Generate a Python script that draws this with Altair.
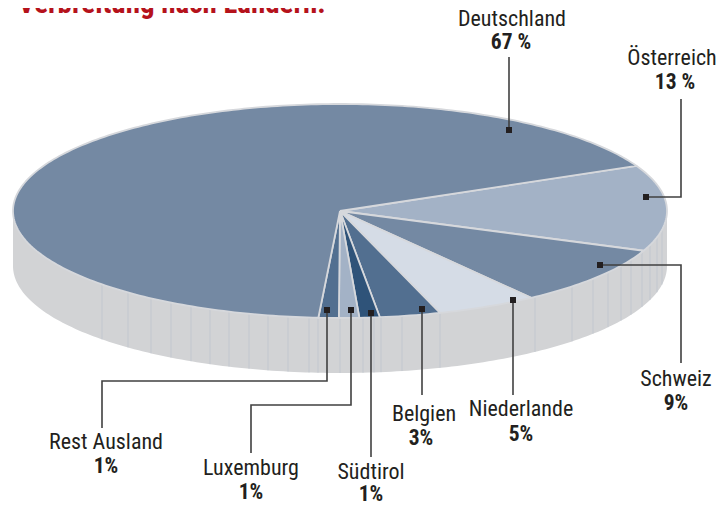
import math
import altair as alt
import pandas as pd

# --- data ---
countries = ["Österreich", "Schweiz", "Niederlande", "Belgien", "Südtirol", "Luxemburg", "Rest Ausland", "Deutschland"]
shares = [13, 9, 5, 3, 1, 1, 1, 67]
fills = ["#a3b2c6", "#7489a3", "#d5dce6", "#526f90", "#2f5379", "#a3b2c6", "#526f90", "#7489a3"]
label_names = ["Deutschland", "Österreich", "Schweiz", "Niederlande", "Belgien", "Südtirol", "Luxemburg", "Rest Ausland"]
label_pcts = ["67 %", "13 %", "9%", "5%", "3%", "1%", "1%", "1%"]
label_x = [512, 672, 676, 521, 424, 371, 251, 106]
label_y = [26, 65, 386, 416, 421, 479, 475, 449]
pct_x = [511, 675, 676, 521, 421, 371, 251, 106]
pct_y = [49, 89, 410, 441, 445, 501, 499, 473]
leaders = [
    [(509, 130), (509, 57)],
    [(646, 197), (681, 197), (681, 99)],
    [(600, 265), (681, 265), (681, 363)],
    [(513, 300), (513, 395)],
    [(422, 309), (422, 395)],
    [(371, 313), (371, 457)],
    [(351, 310), (351, 405), (251, 405), (251, 453)],
    [(327, 310), (327, 381), (102, 381), (102, 428)],
]
seam_x = [102, 128, 151, 171, 191, 210, 229, 249, 268, 288, 309, 318, 340, 363, 374, 381, 402, 440,
          535, 572, 593, 608, 621, 631, 642, 650, 657, 662]

# --- pie geometry ---
CX, CY, RX, RY, DEPTH = 340, 211, 327, 107, 55
START = -25.0
FONT = "Roboto Condensed, Lato"

X = alt.X("x:Q", scale=alt.Scale(domain=[8, 716]), axis=None)
Y = alt.Y("y:Q", scale=alt.Scale(domain=[505, 8]), axis=None)

# slices
rows = []
a = START
for name, share in zip(countries, shares):
    sweep = share * 3.6
    n = max(4, int(sweep))
    pts = [(CX, CY)]
    for k in range(n + 1):
        t = math.radians(a + sweep * k / n)
        pts.append((CX + RX * math.cos(t), CY + RY * math.sin(t)))
    pts.append((CX, CY))
    for i, (px, py) in enumerate(pts):
        rows.append({"name": name, "i": i, "x": px, "y": py})
    a += sweep
slice_df = pd.DataFrame(rows)

# side wall
side = []
for deg in range(0, 181):
    t = math.radians(deg)
    px = CX + RX * math.cos(t)
    py = CY + RY * math.sin(t)
    side.append({"x": px, "y": py, "y2": py + DEPTH})
side_df = pd.DataFrame(side)

seam_df = pd.DataFrame(
    [{"x": sx,
      "y": CY + RY * math.sqrt(1 - ((sx - CX) / RX) ** 2),
      "y2": CY + RY * math.sqrt(1 - ((sx - CX) / RX) ** 2) + DEPTH}
     for sx in seam_x]
)

leader_df = pd.DataFrame(
    [{"id": j, "i": i, "x": p[0], "y": p[1]} for j, line in enumerate(leaders) for i, p in enumerate(line)]
)
anchor_df = pd.DataFrame([{"x": line[0][0], "y": line[0][1]} for line in leaders])
name_df = pd.DataFrame({"x": label_x, "y": label_y, "t": label_names})
pct_df = pd.DataFrame({"x": pct_x, "y": pct_y, "t": label_pcts})
title_df = pd.DataFrame({"x": [18], "y": [13], "t": ["Verbreitung nach Ländern:"]})

side_layer = alt.Chart(side_df).mark_area(color="#d2d3d5", orient="vertical").encode(
    x=X, y=Y, y2="y2:Q"
)
seam_layer = alt.Chart(seam_df).mark_rule(color="#bcc3cd", strokeWidth=1, opacity=0.7).encode(x=X, y=Y, y2="y2:Q")
slice_layer = alt.Chart(slice_df).mark_line(stroke="#d6d8dc", strokeWidth=1.8, strokeJoin="round").encode(
    x=X, y=Y,
    fill=alt.Fill("name:N", scale=alt.Scale(domain=countries, range=fills), legend=None),
    detail="name:N",
    order="i:Q",
)
leader_layer = alt.Chart(leader_df).mark_line(color="#404040", strokeWidth=1.6).encode(
    x=X, y=Y, detail="id:N", order="i:Q"
)
anchor_layer = alt.Chart(anchor_df).mark_square(color="#231f20", size=36, opacity=1).encode(x=X, y=Y)
name_layer = alt.Chart(name_df).mark_text(font=FONT, fontSize=22, color="#231f20", align="center", baseline="alphabetic").encode(
    x=X, y=Y, text="t:N"
)
pct_layer = alt.Chart(pct_df).mark_text(font=FONT, fontSize=21.5, fontWeight="bold", color="#231f20", align="center", baseline="alphabetic").encode(
    x=X, y=Y, text="t:N"
)
title_layer = alt.Chart(title_df).mark_text(font=FONT, fontSize=29, fontWeight="bold", color="#b5121b", align="left", baseline="alphabetic").encode(
    x=X, y=Y, text="t:N"
)

chart = alt.layer(
    side_layer, seam_layer, slice_layer, leader_layer, anchor_layer, name_layer, pct_layer, title_layer
).properties(width=708, height=497, padding=0, autosize=alt.AutoSizeParams(type="none")).configure_view(stroke=None)

chart.save("out.html", embed_options={"renderer": "svg", "actions": False})
